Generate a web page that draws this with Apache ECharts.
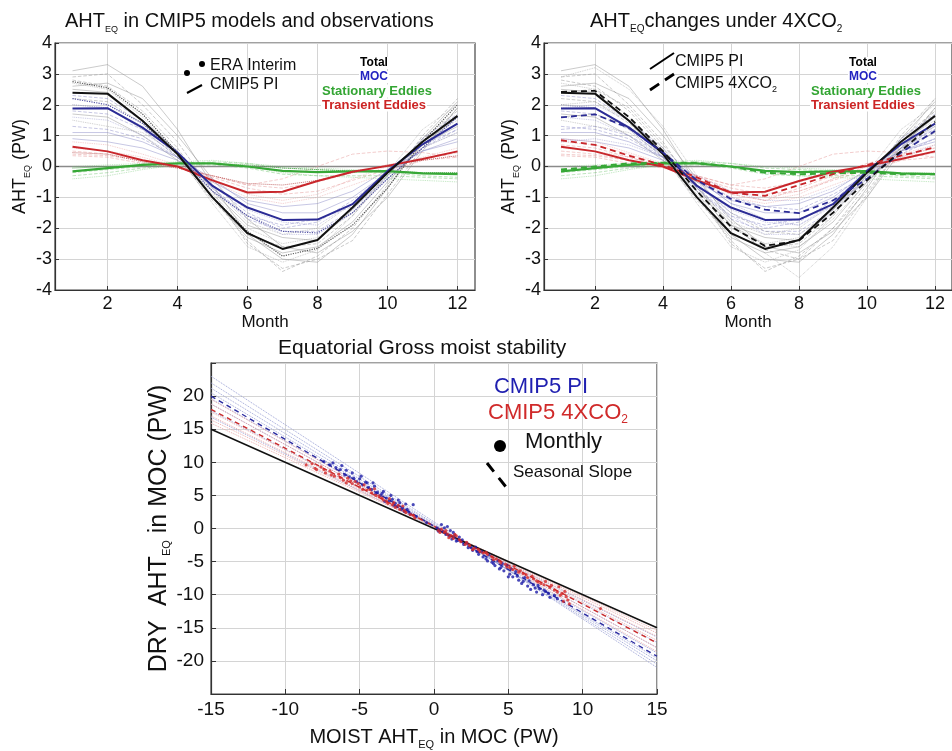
<!DOCTYPE html>
<html><head><meta charset="utf-8">
<script src="https://cdn.jsdelivr.net/npm/echarts@6/dist/echarts.min.js"></script>
<style>html,body{margin:0;padding:0;background:#fff}#c{width:952px;height:751px}</style>
</head><body><div id="c"></div>
<script>
// ---------- DATA ----------
const months = [1,2,3,4,5,6,7,8,9,10,11,12];
const monthTicks = [2,4,6,8,10,12];

// CMIP5 PI multi-model mean (PW)
const piTotal = [2.39, 2.36, 1.48, 0.40, -1.00, -2.16, -2.67, -2.38, -1.33, -0.20, 0.80, 1.64];
const piMOC   = [1.88, 1.89, 1.26, 0.45, -0.63, -1.33, -1.73, -1.72, -1.22, -0.15, 0.72, 1.39];
const piTE    = [0.64, 0.49, 0.20, 0.00, -0.45, -0.84, -0.82, -0.47, -0.17, 0.02, 0.24, 0.49];
const piSE    = [-0.16, -0.05, 0.05, 0.10, 0.10, 0.00, -0.14, -0.18, -0.16, -0.15, -0.22, -0.25];

// CMIP5 4XCO2 multi-model mean (PW)
const x4Total = [2.42, 2.45, 1.60, 0.50, -0.80, -1.95, -2.57, -2.40, -1.50, -0.45, 0.50, 1.45];
const x4MOC   = [1.59, 1.69, 1.25, 0.45, -0.45, -1.05, -1.40, -1.51, -1.10, -0.40, 0.45, 1.15];
const x4TE    = [0.85, 0.70, 0.35, 0.05, -0.35, -0.85, -0.95, -0.60, -0.25, 0.05, 0.35, 0.62];
const x4SE    = [-0.10, 0.00, 0.10, 0.12, 0.12, 0.00, -0.20, -0.25, -0.22, -0.20, -0.25, -0.25];

// ERA Interim
const eraTotal = [2.75, 2.55, 1.70, 0.45, -1.00, -2.10, -2.90, -2.65, -1.90, -0.70, 0.80, 2.00];
const eraMOC   = [2.20, 2.00, 1.40, 0.40, -0.80, -1.60, -2.10, -2.15, -1.50, -0.40, 0.60, 1.60];
const eraTE    = [0.45, 0.40, 0.15, -0.05, -0.30, -0.55, -0.60, -0.45, -0.20, 0.05, 0.20, 0.35];
const eraSE    = [-0.05, 0.00, 0.05, 0.10, 0.10, 0.05, -0.05, -0.10, -0.15, -0.15, -0.20, -0.20];

// individual CMIP5 PI models
const modelsTotal = [
  [3.1, 3.3, 2.6, 1.2, -0.6, -2.2, -3.0, -3.1, -2.2, -0.7, 0.9, 2.1],
  [2.8, 2.6, 1.8, 0.6, -1.0, -2.4, -3.4, -2.9, -2.0, -0.6, 1.0, 2.2],
  [2.7, 2.5, 1.6, 0.4, -1.2, -2.6, -3.1, -2.7, -1.6, -0.2, 1.2, 2.0],
  [2.5, 2.4, 1.5, 0.5, -1.0, -2.3, -2.8, -2.6, -1.8, -0.5, 0.7, 1.6],
  [2.2, 2.1, 1.4, 0.3, -1.1, -2.2, -2.6, -2.5, -1.6, -0.3, 0.9, 1.8],
  [2.0, 1.9, 1.2, 0.3, -0.9, -2.0, -2.5, -2.3, -1.5, -0.3, 0.8, 1.5],
  [1.7, 1.6, 1.0, 0.2, -0.8, -1.9, -2.3, -2.4, -1.4, -0.2, 0.7, 1.3],
  [2.9, 3.0, 2.0, 0.8, -0.8, -2.5, -3.3, -3.0, -2.4, -0.9, 0.6, 1.9],
  [1.5, 1.3, 1.1, 0.4, -0.7, -1.8, -2.2, -2.0, -1.2, -0.1, 0.6, 1.1],
  [2.6, 2.7, 2.2, 1.0, -0.4, -1.7, -2.6, -2.8, -2.1, -1.0, 0.5, 1.9]
];
const modelsMOC = [
  [2.3, 2.2, 1.5, 0.5, -0.7, -1.7, -2.1, -2.1, -1.4, -0.3, 0.9, 1.7],
  [1.6, 1.5, 1.0, 0.3, -0.6, -1.4, -1.8, -1.9, -1.2, -0.3, 0.6, 1.1],
  [1.1, 1.1, 0.8, 0.3, -0.4, -1.2, -1.5, -1.5, -1.0, -0.2, 0.5, 0.9],
  [1.3, 1.2, 0.9, 0.3, -0.6, -1.5, -2.0, -1.8, -1.1, -0.2, 0.7, 1.2],
  [2.0, 1.9, 1.3, 0.4, -0.8, -1.6, -2.2, -2.2, -1.5, -0.4, 0.6, 1.4],
  [0.9, 0.8, 0.6, 0.2, -0.5, -1.1, -1.3, -1.2, -0.8, -0.1, 0.5, 0.8],
  [1.8, 1.7, 1.2, 0.3, -0.7, -1.6, -1.9, -1.7, -1.3, -0.4, 0.6, 1.2]
];
const modelsTE = [
  [0.5, 0.4, 0.2, 0.0, -0.3, -0.6, -0.7, -0.5, -0.2, 0.05, 0.25, 0.45],
  [0.8, 0.7, 0.4, 0.05, -0.4, -0.9, -1.1, -0.9, -0.4, 0.0, 0.3, 0.6],
  [0.35, 0.3, 0.1, -0.05, -0.3, -0.6, -0.4, 0.0, 0.4, 0.5, 0.45, 0.3],
  [0.6, 0.5, 0.3, 0.0, -0.5, -1.0, -1.2, -1.0, -0.6, -0.2, 0.2, 0.5],
  [0.4, 0.35, 0.2, 0.0, -0.35, -0.7, -0.9, -0.8, -0.45, -0.1, 0.2, 0.3]
];
const modelsSE = [
  [-0.4, -0.3, -0.1, 0.05, 0.1, 0.0, -0.2, -0.3, -0.35, -0.4, -0.45, -0.5],
  [-0.2, -0.1, 0.0, 0.1, 0.15, 0.1, -0.05, -0.1, -0.15, -0.2, -0.3, -0.35],
  [0.0, 0.05, 0.1, 0.15, 0.2, 0.1, 0.0, -0.05, -0.1, -0.15, -0.2, -0.2],
  [-0.3, -0.2, -0.05, 0.05, 0.05, -0.05, -0.25, -0.3, -0.3, -0.3, -0.35, -0.4]
];
// individual CMIP5 4XCO2 models
const models4xTotal = [
  [2.9, 3.2, 2.5, 1.3, -0.3, -1.8, -2.8, -3.6, -2.6, -1.0, 0.7, 2.2],
  [2.4, 2.5, 1.9, 0.7, -0.6, -1.9, -2.7, -3.0, -2.0, -0.8, 0.6, 1.8],
  [2.0, 2.1, 1.5, 0.6, -0.7, -1.9, -2.5, -2.6, -1.7, -0.5, 0.6, 1.4],
  [1.6, 1.7, 1.3, 0.5, -0.5, -1.5, -2.1, -2.2, -1.4, -0.4, 0.5, 1.1]
];
const models4xMOC = [
  [1.9, 2.0, 1.5, 0.6, -0.4, -1.2, -1.7, -1.9, -1.3, -0.5, 0.5, 1.3],
  [1.2, 1.3, 1.0, 0.4, -0.4, -1.0, -1.3, -1.4, -0.9, -0.3, 0.4, 0.9],
  [0.8, 0.9, 0.7, 0.3, -0.3, -0.8, -1.1, -1.1, -0.7, -0.2, 0.3, 0.7]
];
const models4xTE = [
  [0.9, 0.8, 0.45, 0.1, -0.3, -0.8, -1.0, -0.8, -0.4, 0.0, 0.4, 0.7],
  [0.7, 0.6, 0.3, 0.0, -0.4, -0.9, -1.1, -0.7, -0.3, 0.1, 0.35, 0.6]
];

// Equatorial GMS panel
const slopeEndsX = [-15, 15];
const piFitEnds = [20.0, -19.3];
const x4FitEnds = [18.0, -17.3];
const refLineEnds = [15.0, -15.0];
const piModelEnds = [[23.0,-21.0],[22.0,-20.5],[21.2,-20.0],[20.5,-19.6],[19.6,-18.8],[18.8,-18.0],[17.8,-17.2],[16.8,-16.4]];
const x4ModelEnds = [[19.5,-18.6],[18.8,-18.0],[17.6,-16.9],[17.0,-16.3],[16.4,-15.8],[15.9,-15.4]];
const piMonthly = [[-7.4,10.1],[-7.0,9.6],[-6.6,9.2],[-6.3,8.9],[-6.0,8.1],[-5.7,7.8],[-5.5,8.4],[-5.2,7.1],[-5.0,7.5],[-4.8,6.6],[-4.6,7.0],[-4.4,6.2],[-4.2,5.9],[-4.0,6.4],[-3.8,5.5],[-3.6,5.0],[-3.4,5.6],[-3.2,4.6],[-3.0,4.2],[-2.8,4.4],[-2.6,3.8],[-2.5,3.3],[-2.3,3.9],[-2.1,3.1],[-2.0,2.6],[-1.8,2.9],[-1.6,2.2],[-1.4,3.6],[-1.2,1.8],[-0.5,0.9],[0.2,0.1],[0.4,-0.2],[0.5,0.6],[0.6,-0.5],[0.8,-0.9],[0.9,0.3],[1.0,-1.1],[1.2,-1.6],[1.3,-0.6],[1.5,-1.9],[1.7,-1.3],[2.0,-2.4],[2.3,-2.9],[2.6,-3.3],[2.8,-2.8],[3.0,-3.9],[3.2,-3.5],[3.5,-4.6],[3.7,-4.0],[3.9,-5.1],[4.1,-5.6],[4.3,-4.9],[4.5,-5.9],[4.7,-6.4],[4.9,-5.6],[5.1,-6.9],[5.3,-7.3],[5.5,-6.5],[5.7,-7.8],[5.9,-8.3],[6.1,-7.4],[6.3,-8.7],[6.5,-9.2],[6.7,-8.5],[6.9,-9.6],[7.1,-9.1],[7.3,-10.0],[7.5,-9.5],[7.8,-10.4],[8.1,-10.1],
  [-6.8,9.9],[-6.2,9.5],[-5.9,8.8],[-5.4,7.6],[-4.9,7.9],[-4.5,6.9],[-4.1,6.9],[-3.9,5.3],[-3.5,5.3],[-3.3,4.1],[-2.9,5.0],[-2.7,3.5],[-2.4,4.3],[-2.2,2.9],[-1.9,3.7],[-1.7,2.5],[0.3,-0.4],[0.7,0.1],[1.1,-0.3],[1.4,-1.0],[1.6,-1.8],[1.9,-1.7],[2.2,-2.2],[2.5,-2.9],[2.9,-3.5],[3.3,-4.3],[3.6,-4.9],[4.0,-5.3],[4.4,-6.1],[4.6,-5.3],[5.0,-7.3],[5.2,-6.1],[5.6,-7.2],[6.0,-8.0],[6.4,-7.9],[6.8,-9.0],[7.0,-8.6],[7.4,-9.3],[7.7,-9.8],[8.3,-10.6]];
const x4Monthly = [[-8.6,9.6],[-8.2,9.8],[-7.9,8.9],[-7.6,9.3],[-7.3,8.4],[-7.0,8.7],[-6.7,7.9],[-6.4,8.2],[-6.1,7.3],[-5.8,7.6],[-5.5,6.8],[-5.3,7.1],[-5.0,6.3],[-4.7,6.6],[-4.5,5.8],[-4.2,5.4],[-4.0,6.0],[-3.7,4.9],[-3.5,4.6],[-3.2,4.1],[-3.0,4.5],[-2.8,3.6],[-2.6,3.2],[-2.3,2.9],[-2.1,3.4],[-1.9,2.4],[-1.6,2.1],[-1.3,1.6],[0.3,-0.3],[0.5,-0.1],[0.7,-0.6],[0.9,-0.9],[1.1,-1.2],[1.3,-1.5],[1.5,-1.1],[1.8,-2.0],[2.1,-2.4],[2.4,-2.6],[2.7,-3.0],[3.0,-3.2],[3.3,-3.7],[3.6,-3.9],[3.9,-4.3],[4.2,-4.6],[4.5,-5.2],[4.8,-5.4],[5.1,-5.9],[5.4,-5.7],[5.7,-6.6],[6.0,-6.8],[6.3,-7.4],[6.6,-7.2],[6.9,-7.9],[7.2,-8.3],[7.5,-8.0],[7.8,-8.9],[8.1,-9.3],[8.4,-8.8],[8.6,-9.8],[8.9,-10.3],[8.7,-11.0],[9.1,-11.4],[11.2,-12.1],
  [-8.0,9.1],[-7.4,8.9],[-6.9,8.1],[-6.3,7.7],[-5.9,6.9],[-5.6,7.2],[-5.1,6.8],[-4.8,5.9],[-4.3,5.9],[-3.9,5.0],[-3.4,4.3],[-3.1,3.8],[-2.7,3.9],[-2.4,3.5],[-2.0,2.7],[-1.4,2.0],[0.4,-0.6],[0.8,-0.3],[1.0,-1.4],[1.4,-0.9],[1.7,-1.7],[2.2,-2.1],[2.6,-3.2],[3.1,-3.5],[3.5,-3.6],[4.0,-4.7],[4.4,-4.9],[4.9,-5.8],[5.3,-6.2],[5.8,-6.4],[6.2,-7.0],[6.7,-7.6],[7.0,-8.1],[7.4,-8.5],[7.9,-8.6],[8.3,-9.6],[8.5,-10.1],[8.8,-9.5],[9.0,-10.8]];

// ---------- STYLE ----------
const FONT = 'Liberation Sans, Arial, sans-serif';
const C = {black:'#111111', blue:'#2b2b95', red:'#c8262b', green:'#36a836',
           gray:'#8c8c8c', purple:'#8282c4', pink:'#e29090', lgreen:'#6cc46c'};

function pair(arr){ return arr.map((v,i)=>[months[i], v]); }
function line(g, data, color, width, type, opacity, z){
  return {type:'line', xAxisIndex:g, yAxisIndex:g, data: pair(data), showSymbol:false, symbol:'none',
    silent:true, z: z||2, lineStyle:{color, width, type, opacity: opacity==null?1:opacity}};
}
const series = [];
function thinSet(g, list, color, types){
  list.forEach((d,i)=>series.push(line(g, d, color, 0.9, types[i%types.length], 0.5, 1)));
}
[0,1].forEach(g=>{
  thinSet(g, modelsTotal, C.gray, ['solid','dashed','dotted']);
  thinSet(g, modelsMOC, C.purple, ['dashed','dotted','solid']);
  thinSet(g, modelsTE, C.pink, ['dashed','dotted']);
  thinSet(g, modelsSE, C.lgreen, ['dotted','dashed']);
});
thinSet(1, models4xTotal, C.gray, ['dotted','dashed']);
thinSet(1, models4xMOC, C.purple, ['dotted','dashed']);
thinSet(1, models4xTE, C.pink, ['dotted','dashed']);

// ERA dotted (left)
series.push(line(0, eraTotal, '#444', 1.2, 'dotted', 0.9, 3));
series.push(line(0, eraMOC, '#44449a', 1.2, 'dotted', 0.9, 3));
series.push(line(0, eraTE, '#c06060', 1.0, 'dotted', 0.9, 3));
series.push(line(0, eraSE, '#3c9c3c', 1.0, 'dotted', 0.9, 3));

[0,1].forEach(g=>{
  const zl = line(g, piSE, C.green, 2.2, 'solid', 1, 5);
  zl.markLine = {silent:true, symbol:'none', label:{show:false}, data:[{yAxis:0}],
                 lineStyle:{color:'#8a8a8a', width:1.3, type:'solid'}, z:0};
  series.push(zl);
  series.push(line(g, piTE, C.red, 2, 'solid', 1, 5));
  series.push(line(g, piMOC, C.blue, 2, 'solid', 1, 5));
  series.push(line(g, piTotal, C.black, 2, 'solid', 1, 5));
});
series.push(line(1, x4SE, C.green, 2, [6,4], 1, 6));
series.push(line(1, x4TE, C.red, 1.8, [6,4], 1, 6));
series.push(line(1, x4MOC, C.blue, 1.8, [6,4], 1, 6));
series.push(line(1, x4Total, C.black, 1.8, [6,4], 1, 6));

// GMS panel
function seg(ends, color, width, type, opacity, z){
  return {type:'line', xAxisIndex:2, yAxisIndex:2, showSymbol:false, symbol:'none', silent:true, z:z||2,
    data:[[slopeEndsX[0], ends[0]],[slopeEndsX[1], ends[1]]], lineStyle:{color, width, type, opacity}};
}
piModelEnds.forEach(e=>series.push(seg(e, '#8d95cf', 1, 'dotted', 0.85, 1)));
x4ModelEnds.forEach(e=>series.push(seg(e, '#e6a0a0', 1, 'dotted', 0.85, 1)));
series.push(seg(refLineEnds, '#111', 1.5, 'solid', 1, 3));
series.push(seg(piFitEnds, '#2a2aa0', 1.4, [5,4], 1, 4));
series.push(seg(x4FitEnds, '#cc2a2a', 1.4, [5,4], 1, 4));
series.push({type:'scatter', xAxisIndex:2, yAxisIndex:2, data:piMonthly, symbolSize:3.2, silent:true, z:5,
  itemStyle:{color:'#1c1ca8'}});
series.push({type:'scatter', xAxisIndex:2, yAxisIndex:2, data:x4Monthly, symbolSize:3.2, silent:true, z:5,
  itemStyle:{color:'#d42828'}});

// ---------- AXES ----------
const splitCol = '#d4d4d4';
const nrm = (fs, lh) => ({fontSize: fs, lineHeight: lh, fontFamily: FONT, fontWeight:'normal', color:'#111'});
const sub = (fs, lh) => ({fontSize: fs, verticalAlign:'bottom', lineHeight: lh, fontFamily: FONT, fontWeight:'normal', color:'#111'});
function monthAxis(g){
  return {type:'value', gridIndex:g, min:0.5, max:12.5,
    axisLine:{show:true, onZero:false, lineStyle:{color:'#333', width:1.2}},
    axisTick:{show:true, inside:true, length:4, customValues: monthTicks, lineStyle:{color:'#333'}},
    axisLabel:{customValues: monthTicks, fontSize:18, color:'#111', margin:5, fontFamily:FONT},
    splitLine:{show:true, lineStyle:{color:splitCol, width:1}},
    name:'Month', nameLocation:'middle', nameGap:21,
    nameTextStyle:{fontSize:17, color:'#111', fontFamily:FONT}};
}
function ahtAxis(g){
  return {type:'value', gridIndex:g, min:-4, max:4, interval:1,
    axisLine:{show:true, onZero:false, lineStyle:{color:'#333', width:1.2}},
    axisTick:{show:true, inside:true, length:4, lineStyle:{color:'#333'}},
    axisLabel:{fontSize:18, color:'#111', margin:3, fontFamily:FONT},
    splitLine:{show:true, lineStyle:{color:splitCol, width:1}},
    name:'{n|AHT}{s|EQ}{n| (PW)}', nameLocation:'middle', nameRotate:90, nameGap:20,
    nameTextStyle:{rich:{n:nrm(18,24), s:sub(9,8)}}};
}

function gtext(x, y, text, size, color, weight, align, bg){
  const st = {text, fontSize:size, fontFamily:FONT, fontWeight:weight||'normal',
    fill:color, align: align||'left', verticalAlign:'middle'};
  if (bg) { st.backgroundColor = '#fff'; st.padding = [0,1]; }
  return {type:'text', x, y, z:100, style:st};
}

const option = {
  animation:false,
  backgroundColor:'#fff',
  textStyle:{fontFamily:FONT},
  title:[
    {text:'{n|AHT}{s|EQ}{n| in CMIP5 models and observations}', left:60, top:3,
     textStyle:{fontWeight:'normal', rich:{n:nrm(20,26), s:sub(9,8)}}},
    {text:'{n|AHT}{s|EQ}{n|changes under 4XCO}{s|2}', left:585, top:3,
     textStyle:{fontWeight:'normal', rich:{n:nrm(20,26), s:sub(10,8)}}},
    {text:'Equatorial Gross moist stability', left:273, top:333,
     textStyle:{fontSize:21, fontWeight:'normal', color:'#111', fontFamily:FONT}}
  ],
  grid:[
    {left:55, top:43, width:420, height:247, show:true, borderColor:'#444', borderWidth:1.2},
    {left:544, top:43, width:420, height:247, show:true, borderColor:'#444', borderWidth:1.2},
    {left:211, top:363, width:446, height:331, show:true, borderColor:'#444', borderWidth:1.2}
  ],
  xAxis:[ monthAxis(0), monthAxis(1),
    {type:'value', gridIndex:2, min:-15, max:15, interval:5,
     axisLine:{show:true, onZero:false, lineStyle:{color:'#333', width:1.2}},
     axisTick:{show:true, inside:true, length:5, lineStyle:{color:'#333'}},
     axisLabel:{fontSize:19, color:'#111', margin:6, fontFamily:FONT},
     splitLine:{show:true, lineStyle:{color:splitCol, width:1}},
     name:'{n|MOIST AHT}{s|EQ}{n| in MOC (PW)}', nameLocation:'middle', nameGap:30,
     nameTextStyle:{rich:{n:nrm(20,26), s:sub(11,9)}}}
  ],
  yAxis:[ ahtAxis(0), ahtAxis(1),
    {type:'value', gridIndex:2, min:-25, max:25, interval:5,
     axisLine:{show:true, onZero:false, lineStyle:{color:'#333', width:1.2}},
     axisTick:{show:true, inside:true, length:5, lineStyle:{color:'#333'}},
     axisLabel:{fontSize:19, color:'#111', margin:7, fontFamily:FONT,
       formatter: v => (Math.abs(v) === 25 ? '' : String(v))},
     splitLine:{show:true, lineStyle:{color:splitCol, width:1}},
     name:'{n|DRY  AHT}{s|EQ}{n| in MOC (PW)}', nameLocation:'middle', nameRotate:90, nameGap:30,
     nameTextStyle:{rich:{n:nrm(25,28), s:sub(11,9)}}}
  ],
  graphic:[
    // left legend
    {type:'circle', z:100, shape:{cx:187, cy:73, r:3}, style:{fill:'#000'}},
    {type:'circle', z:100, shape:{cx:202, cy:64, r:3}, style:{fill:'#000'}},
    gtext(210, 66, 'ERA Interim', 16, '#111'),
    {type:'line', z:100, shape:{x1:187, y1:93, x2:202, y2:85}, style:{stroke:'#000', lineWidth:2}},
    gtext(210, 85, 'CMIP5 PI', 16, '#111'),
    gtext(374, 63, 'Total', 12, '#000', 'bold', 'center', true),
    gtext(374, 77, 'MOC', 12, '#2323c0', 'bold', 'center', true),
    gtext(377, 91, 'Stationary Eddies', 13, '#33a533', 'bold', 'center', true),
    gtext(374, 105, 'Transient Eddies', 13, '#cc2424', 'bold', 'center', true),
    // right legend
    {type:'line', z:100, shape:{x1:650, y1:69, x2:674, y2:53}, style:{stroke:'#000', lineWidth:2}},
    gtext(675, 62, 'CMIP5 PI', 16, '#111'),
    {type:'line', z:100, shape:{x1:650, y1:90, x2:674, y2:74}, style:{stroke:'#000', lineWidth:2.8, lineDash:[11,7]}},
    {type:'text', z:100, x:675, y:84, style:{rich:{n:{fontSize:16, fontFamily:FONT, fill:'#111', lineHeight:20}, s:{fontSize:9, fontFamily:FONT, fill:'#111', verticalAlign:'bottom', lineHeight:6}},
       text:'{n|CMIP5 4XCO}{s|2}', verticalAlign:'middle'}},
    gtext(863, 63, 'Total', 12, '#000', 'bold', 'center', true),
    gtext(863, 77, 'MOC', 12, '#2323c0', 'bold', 'center', true),
    gtext(866, 91, 'Stationary Eddies', 13, '#33a533', 'bold', 'center', true),
    gtext(863, 105, 'Transient Eddies', 13, '#cc2424', 'bold', 'center', true),
    // bottom legend
    gtext(541, 387, 'CMIP5 PI', 22, '#1f1fb0', 'normal', 'center'),
    {type:'text', z:100, x:488, y:413, style:{rich:{n:{fontSize:22, fontFamily:FONT, fill:'#d02a2a', lineHeight:26}, s:{fontSize:12, fontFamily:FONT, fill:'#d02a2a', verticalAlign:'bottom', lineHeight:8}},
       text:'{n|CMIP5 4XCO}{s|2}', verticalAlign:'middle'}},
    {type:'circle', z:100, shape:{cx:500, cy:446, r:6}, style:{fill:'#000'}},
    gtext(525, 442, 'Monthly', 22, '#111'),
    {type:'line', z:100, shape:{x1:487, y1:463, x2:506, y2:487}, style:{stroke:'#000', lineWidth:3, lineDash:[11,8]}},
    gtext(513, 472, 'Seasonal Slope', 17, '#111')
  ],
  series
};
const chart = echarts.init(document.getElementById('c'), null, {renderer:'canvas'});
chart.setOption(option);
</script></body></html>
